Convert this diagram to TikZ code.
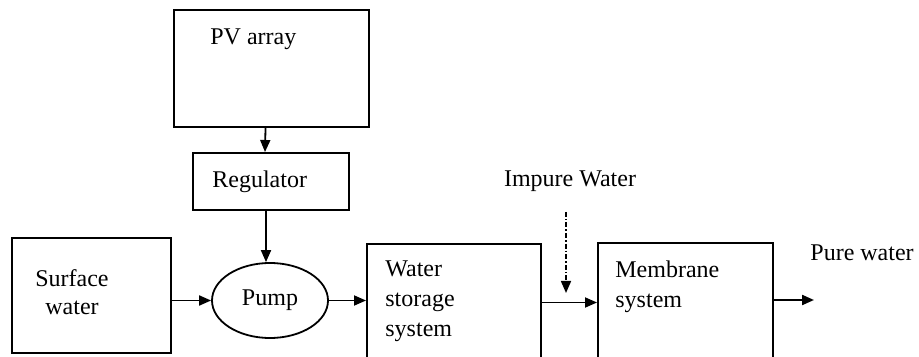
\documentclass[tikz,border=0pt]{standalone}
\usepackage{fontspec}
\setmainfont{Liberation Serif}
\usetikzlibrary{arrows.meta,positioning,shapes.geometric}

\begin{document}
\begin{tikzpicture}[x=0.5pt, y=-0.5pt,
        blockbox/.style={draw, line width=1pt, inner sep=0pt},
        pumpshape/.style={draw, ellipse, line width=0.9pt, inner sep=0pt, minimum width=58pt, minimum height=37.5pt, font=\fontsize{12}{15}\selectfont},
        blocktext/.style={font=\fontsize{12}{15}\selectfont, inner sep=0pt, align=left},
        flow/.style={-{Triangle[length=6pt, width=5pt]}, line width=0.9pt},
        feedline/.style={-{Triangle[length=6pt, width=5pt]}, dash pattern=on 2.5pt off 1pt on 0.8pt off 1pt, line width=0.8pt},
    ]
    \useasboundingbox (0,0) rectangle (919,357);

    % === Power side ===
    \node[blockbox, minimum width=97.5pt, minimum height=58.5pt] (pv) at (271.5,68.5) {};
    \node[blocktext, anchor=base west] (pvtext) at (210,45) {PV array};
    \node[blockbox, minimum width=78pt, minimum height=28.5pt] (reg) at (271,181.5) {};
    \node[blocktext, anchor=base west] (regtext) at (212,188) {Regulator};

    % === Water line ===
    \node[blockbox, minimum width=79.5pt, minimum height=57.5pt] (surf) at (91.5,295.5) {};
    \node[blocktext, align=center, anchor=north, font=\fontsize{12}{14}\selectfont] (surftext) at (72,269) {Surface\\water};
    \node[pumpshape] (pump) at (270,300.5) {Pump};
    \node[blockbox, minimum width=87pt, minimum height=65.5pt] (store) at (454,309.5) {};
    \node[blocktext, anchor=north west] (storetext) at (385,260) {Water\\storage\\system};
    \node[blockbox, minimum width=87.5pt, minimum height=66pt] (memb) at (685.5,309) {};
    \node[blocktext, anchor=north west] (membtext) at (615,260) {Membrane\\system};

    % Labels
    \node[blocktext] (impure) at (570,181) {Impure Water};
    \node[blocktext, anchor=base west] (pure) at (810,261) {Pure water};
    \coordinate (inlet) at (566,293);
    \coordinate (outlet) at (814,300);

    % Connectors
    \draw[flow] ([xshift=-3pt]pv.south) -- ([xshift=-3pt]reg.north);
    \draw[flow] ([xshift=-2.5pt]reg.south) -- ([xshift=-2pt]pump.north);
    \draw[flow] (surf.east |- pump.west) -- (pump.west);
    \draw[flow] (pump.east) -- (pump.east -| store.west);
    \draw[flow] ([yshift=-1pt]pump.east -| store.east) -- ([yshift=-1pt]pump.east -| memb.west);
    \draw[feedline] ([yshift=-10pt]impure.south -| inlet) -- (inlet);
    \draw[flow, line width=1.1pt] (memb.east |- outlet) -- (outlet);

\end{tikzpicture}
\end{document}
